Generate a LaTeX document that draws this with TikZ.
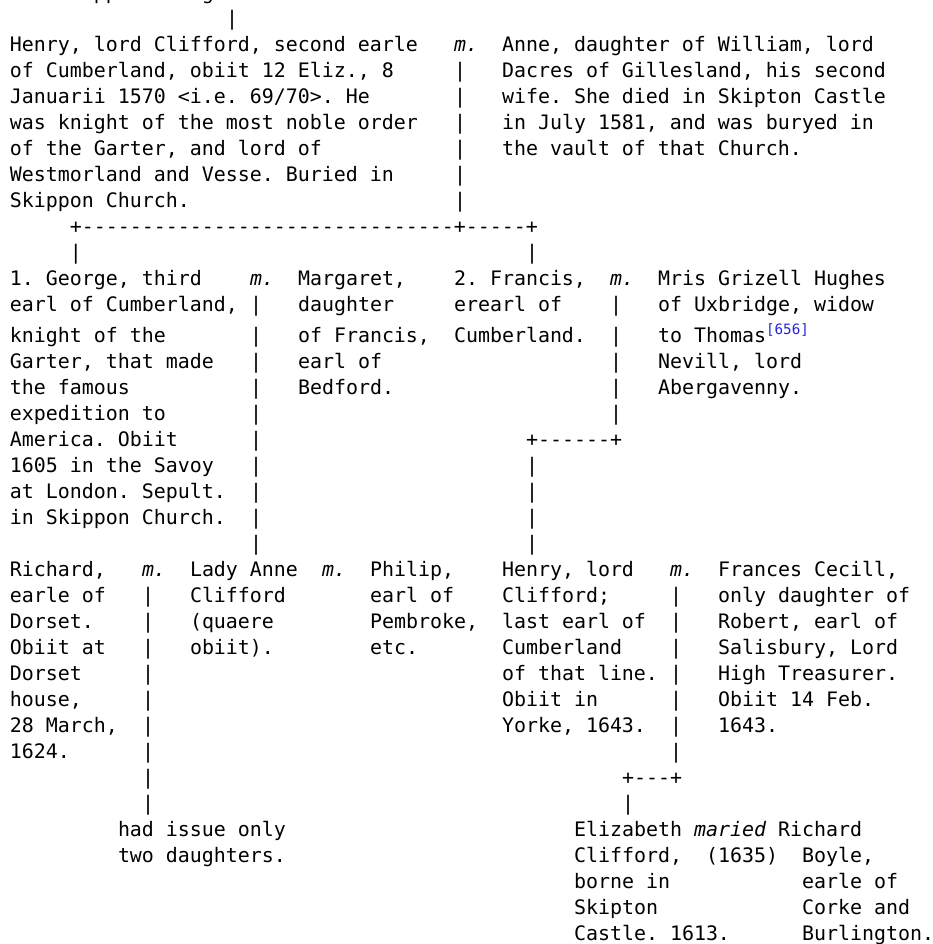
\documentclass[tikz,border=0pt]{standalone}
\usepackage{fontspec}
\newfontfamily\pedigreefont{DejaVu Sans Mono}
\usetikzlibrary{positioning}
\definecolor{notelink}{RGB}{34,34,221}
\tikzset{
  entry/.style={font=\pedigreefont\frenchspacing\fontsize{14.95}{19.5}\selectfont, inner sep=0pt, outer sep=0pt, anchor=base west, align=left},
  wed/.style={entry, font=\pedigreefont\itshape\fontsize{14.95}{19.5}\selectfont},
}
\newcommand{\notemark}[1]{\textcolor{notelink}{\raisebox{6pt}{\fontsize{10.7}{12}\selectfont[#1]}}}

\begin{document}
\begin{tikzpicture}[x=9pt, y=-19.5pt]
  \useasboundingbox (-0.8333,0.0385) rectangle (76.9167,36.3462);
  \clip (-0.8333,0.0385) rectangle (76.9167,36.3462);
  \def\sh{0.1923} % rows below the footnote line sit a little lower
  % multi-line entries are placed by the baseline of their last line
  % line cut off at the top
  \node[entry] (above) at (4,0) {Skippon being};
  \node[entry] (stem) at (18,1) {|};
  % second earle and his wife
  \node[entry] (henry) at (0,8) {Henry, lord Clifford, second earle\\of Cumberland, obiit 12 Eliz., 8\\Januarii 1570 <i.e. 69/70>. He\\was knight of the most noble order\\of the Garter, and lord of\\Westmorland and Vesse. Buried in\\Skippon Church.};
  \node[wed] (m1) at (37,2) {m.};
  \node[entry] (anne) at (41,6) {Anne, daughter of William, lord\\Dacres of Gillesland, his second\\wife. She died in Skipton Castle\\in July 1581, and was buryed in\\the vault of that Church.};
  \node[entry] (bar1) at (37,8) {|\\|\\|\\|\\|\\|};
  \node[entry] (fork1) at (5,9) {+-------------------------------+-----+};
  \node[entry] (bar2) at (5,10) {|};
  \node[entry] (bar3) at (43,10) {|};
  % their sons
  \node[entry] (george) at (0,20+\sh) {1. George, third\\earl of Cumberland,\\[3.75pt]knight of the\\Garter, that made\\the famous\\expedition to\\America. Obiit\\1605 in the Savoy\\at London. Sepult.\\in Skippon Church.};
  \node[wed] (m2) at (20,11) {m.};
  \node[entry] (bar4) at (20,21+\sh) {|\\[3.75pt]|\\|\\|\\|\\|\\|\\|\\|\\|};
  \node[entry] (margaret) at (24,15+\sh) {Margaret,\\daughter\\[3.75pt]of Francis,\\earl of\\Bedford.};
  \node[entry] (francis) at (37,13+\sh) {2. Francis,\\erearl of\\[3.75pt]Cumberland.};
  \node[wed] (m3) at (50,11) {m.};
  \node[entry] (bar5) at (50,16+\sh) {|\\[3.75pt]|\\|\\|\\|};
  \node[entry] (grizell) at (54,15+\sh) {Mris Grizell Hughes\\of Uxbridge, widow\\[3.75pt]to Thomas\notemark{656}\\Nevill, lord\\Abergavenny.};
  \node[entry] (fork2) at (43,17+\sh) {+------+};
  \node[entry] (bar6) at (43,21+\sh) {|\\|\\|\\|};
  % the next generation
  \node[entry] (dorset) at (0,29+\sh) {Richard,\\earle of\\Dorset.\\Obiit at\\Dorset\\house,\\28 March,\\1624.};
  \node[wed] (m4) at (11,22+\sh) {m.};
  \node[entry] (bar7) at (11,31+\sh) {|\\|\\|\\|\\|\\|\\|\\|\\|};
  \node[entry] (ladyanne) at (15,25+\sh) {Lady Anne\\Clifford\\(quaere\\obiit).};
  \node[wed] (m5) at (26,22+\sh) {m.};
  \node[entry] (philip) at (30,25+\sh) {Philip,\\earl of\\Pembroke,\\etc.};
  \node[entry] (henrylast) at (41,28+\sh) {Henry, lord\\Clifford;\\last earl of\\Cumberland\\of that line.\\Obiit in\\Yorke, 1643.};
  \node[wed] (m6) at (55,22+\sh) {m.};
  \node[entry] (bar8) at (55,29+\sh) {|\\|\\|\\|\\|\\|\\|};
  \node[entry] (frances) at (59,28+\sh) {Frances Cecill,\\only daughter of\\Robert, earl of\\Salisbury, Lord\\High Treasurer.\\Obiit 14 Feb.\\1643.};
  \node[entry] (fork3) at (51,30+\sh) {+---+};
  \node[entry] (bar9) at (51,31+\sh) {|};
  % issue
  \node[entry] (issue) at (9,33+\sh) {had issue only\\two daughters.};
  \node[entry] (elizabeth) at (47,36+\sh) {Elizabeth\\Clifford,\\borne in\\Skipton\\Castle. 1613.};
  \node[wed] (m7) at (57,32+\sh) {maried};
  \node[entry] (wedyear) at (58,33+\sh) {(1635)};
  \node[entry] (boylename) at (64,32+\sh) {Richard};
  \node[entry] (boyle) at (66,36+\sh) {Boyle,\\earle of\\Corke and\\Burlington.};
\end{tikzpicture}
\end{document}
